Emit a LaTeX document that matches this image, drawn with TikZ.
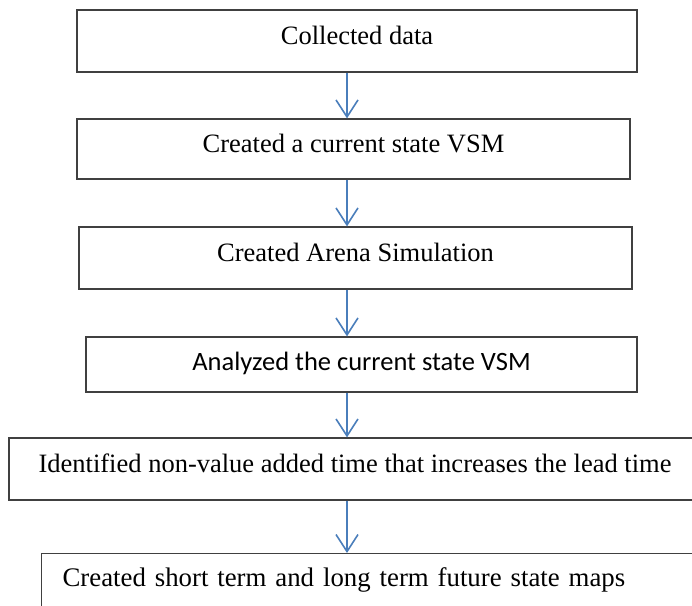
\documentclass[tikz,border=0pt]{standalone}
\usepackage{fontspec}
\setmainfont{Liberation Serif}
\newfontfamily\calibrifont{Carlito}
\usetikzlibrary{arrows.meta}
\begin{document}
\begin{tikzpicture}[x=1pt,y=-1pt,
  box/.style={draw=black!75, line width=1.2pt, rectangle, inner sep=0pt,
    font=\fontsize{26.5}{30}\selectfont, text height=0.8em, text depth=0.1em},
  arr/.style={draw={rgb,255:red,74;green,126;blue,187}, line width=1.6pt,
    -{Straight Barb[length=17pt,width=22pt,line width=1.6pt]}}]
\useasboundingbox (0,0) rectangle (692,605);
\node[box, minimum width=560pt, minimum height=62pt] (b1) at (357,41) {Collected data};
\node[box, minimum width=553pt, minimum height=60pt] (b2) at (353.5,149) {Created a current state VSM};
\node[box, minimum width=553pt, minimum height=62pt] (b3) at (355.5,258) {Created Arena Simulation};
\node[box, minimum width=551pt, minimum height=55pt, text height=1.1em, text depth=0em, font=\calibrifont\fontsize{26.5}{30}\selectfont] (b4) at (361.5,364.5) {Analyzed the current state VSM};
\node[box, minimum width=692pt, minimum height=62pt] (b5) at (355,469) {Identified non-value added time that increases the lead time};
\node[box, anchor=north west, text width=650pt, align=left, inner xsep=21pt, minimum height=58pt, font=\fontsize{26.8}{30}\selectfont] (b6) at (41,553) {Created short term and long term future state maps};
\coordinate (ax) at (347,0);
\draw[arr] (ax |- b1.south) -- (ax |- b2.north);
\draw[arr] (ax |- b2.south) -- (ax |- b3.north);
\draw[arr] (ax |- b3.south) -- (ax |- b4.north);
\draw[arr] (ax |- b4.south) -- (ax |- b5.north);
\draw[arr] (ax |- b5.south) -- (ax |- b6.north);
\end{tikzpicture}
\end{document}
